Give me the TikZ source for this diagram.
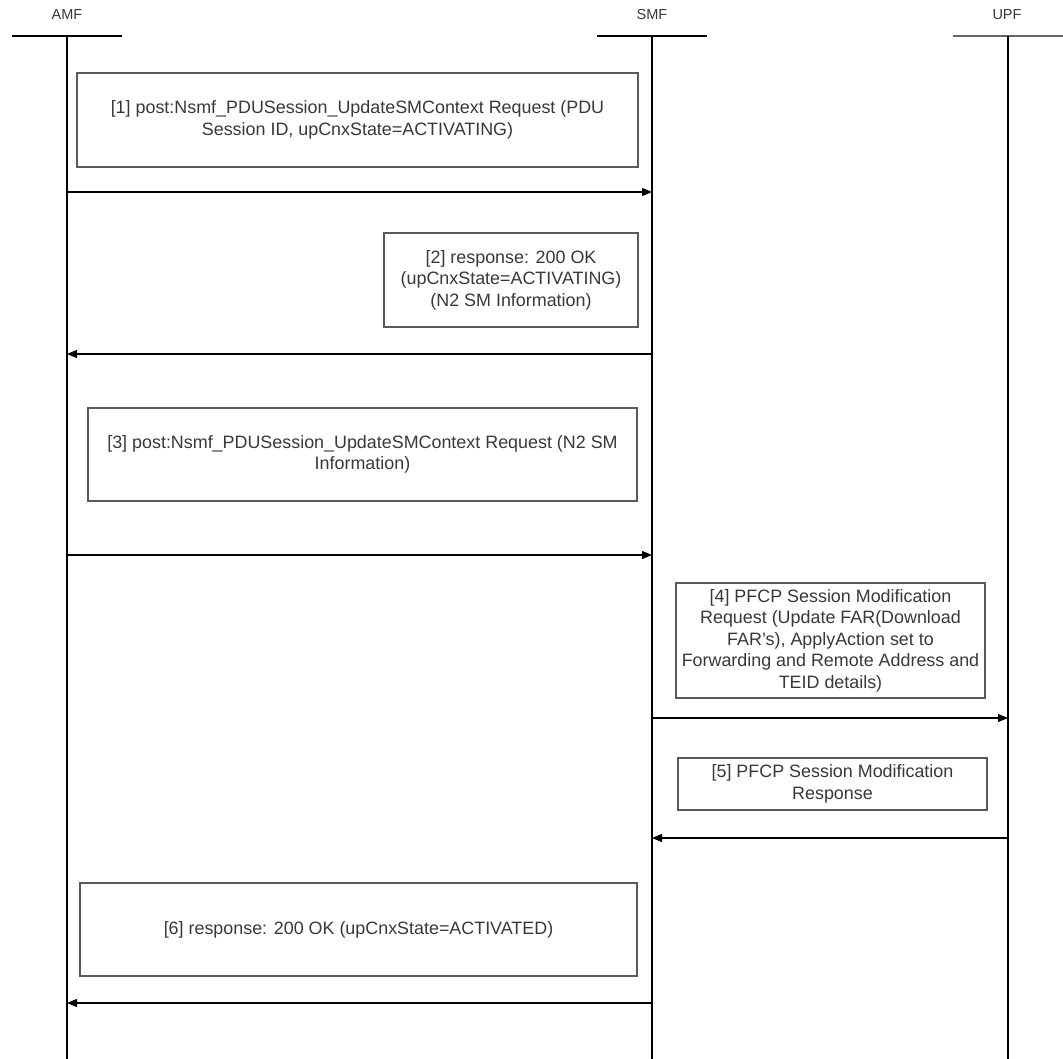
\documentclass[tikz,border=0pt]{standalone}
\usepackage{fontspec}
\setmainfont{Liberation Sans}
\usetikzlibrary{arrows.meta}
\definecolor{boxgray}{HTML}{5A5A5A}
\definecolor{txtgray}{HTML}{383838}
\begin{document}
\begin{tikzpicture}[x=1pt,y=-1pt,
  head/.style={font=\fontsize{14.5}{17}\selectfont, text=txtgray, inner sep=0pt},
  headline/.style={line width=1.3pt, black},
  lifeline/.style={line width=1.1pt, black},
  msgbox/.style={draw=boxgray, line width=1.4pt, inner sep=0pt, outer sep=0pt, align=center,
    text=txtgray, font=\fontsize{17.9}{21.5}\selectfont},
  msg/.style={line width=1.1pt, black, -{Triangle[length=10pt,width=8pt]}}]
\useasboundingbox (0,0) rectangle (1063,1059);
% headers
\node[head] (amf) at (67,15) {AMF};
\node[head] (smf) at (652,15) {SMF};
\node[head] (upf) at (1007,15) {UPF};
\draw[headline] (12,36) -- (122,36);
\draw[headline] (597,36) -- (707,36);
\draw[line width=2pt, gray!80!black] (953,36) -- (1063,36);
% lifelines
\coordinate (amfT) at (67,36);  \coordinate (amfB) at (67,1059);
\coordinate (smfT) at (652,36); \coordinate (smfB) at (652,1059);
\coordinate (upfT) at (1008,36); \coordinate (upfB) at (1008,1059);
\draw[lifeline] (amfT) -- (amfB);
\draw[lifeline] (smfT) -- (smfB);
\draw[lifeline] (upfT) -- (upfB);
% boxes
\node[msgbox, minimum width=561pt, minimum height=94pt] (b1) at (357.5,120)
  {[1] post:Nsmf\_PDUSession\_UpdateSMContext Request (PDU\\Session ID, upCnxState=ACTIVATING)};
\node[msgbox, minimum width=254pt, minimum height=94pt] (b2) at (511,280)
  {[2] response: 200 OK\\(upCnxState=ACTIVATING)\\(N2 SM Information)};
\node[msgbox, minimum width=549pt, minimum height=93pt] (b3) at (362.5,454.5)
  {[3] post:Nsmf\_PDUSession\_UpdateSMContext Request (N2 SM\\Information)};
\node[msgbox, minimum width=309pt, minimum height=115pt] (b4) at (830.5,640.5)
  {[4] PFCP Session Modification\\Request (Update FAR(Download\\FAR's), ApplyAction set to\\Forwarding and Remote Address and\\TEID details)};
\node[msgbox, minimum width=309pt, minimum height=52pt] (b5) at (832.5,784)
  {[5] PFCP Session Modification\\Response};
\node[msgbox, minimum width=557pt, minimum height=93pt] (b6) at (358.5,929.5)
  {[6] response: 200 OK (upCnxState=ACTIVATED)};
% message endpoints
\coordinate (a1) at (67,192);   \coordinate (s1) at (652,192);
\coordinate (a2) at (67,354);   \coordinate (s2) at (652,354);
\coordinate (a3) at (67,555);   \coordinate (s3) at (652,555);
\coordinate (s4) at (652,718);  \coordinate (u4) at (1008,718);
\coordinate (s5) at (652,838);  \coordinate (u5) at (1008,838);
\coordinate (a6) at (67,1003);  \coordinate (s6) at (652,1003);
\draw[msg] (a1) -- (s1);
\draw[msg] (s2) -- (a2);
\draw[msg] (a3) -- (s3);
\draw[msg] (s4) -- (u4);
\draw[msg] (u5) -- (s5);
\draw[msg] (s6) -- (a6);
\end{tikzpicture}
\end{document}
